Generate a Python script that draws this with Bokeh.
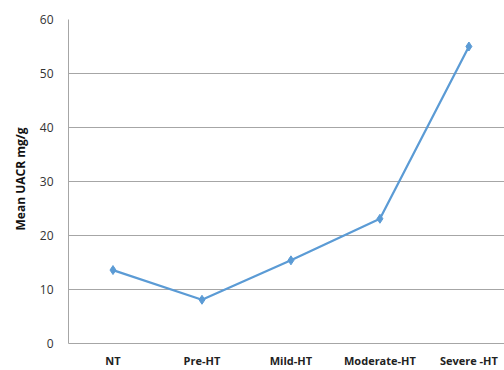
from bokeh.plotting import figure
from bokeh.models import Range1d, FixedTicker, Title
from bokeh.embed import file_html
from bokeh.resources import INLINE

categories = ["NT", "Pre-HT", "Mild-HT", "Moderate-HT", "Severe -HT"]
uacr = [13.6, 8.1, 15.4, 23.1, 55.0]

xs = [i + 0.5 for i in range(len(categories))]

p = figure(width=504, height=370, output_backend="svg", toolbar_location=None,
           x_range=Range1d(0, 4.9), y_range=Range1d(0, 60),
           min_border_left=68, min_border_right=0, min_border_top=19, min_border_bottom=27)
p.outline_line_color = None
p.background_fill_color = "white"

p.line(xs, uacr, line_color="#5B9BD5", line_width=2.25)
p.scatter(xs, uacr, marker="diamond", size=9, fill_color="#5B9BD5", line_color="#5B9BD5")

p.xaxis.ticker = FixedTicker(ticks=xs)
p.xaxis.major_label_overrides = {x: c for x, c in zip(xs, categories)}
p.xaxis.major_label_text_font = "Open Sans"
p.xaxis.major_label_text_font_style = "bold"
p.xaxis.major_label_text_font_size = "11px"
p.xaxis.major_label_text_color = "#222222"
p.xaxis.major_label_standoff = 9
p.xaxis.major_tick_out = 0
p.xaxis.major_tick_in = 0
p.xaxis.major_tick_line_color = None
p.xaxis.minor_tick_line_color = None
p.xaxis.axis_line_color = "#a6a6a6"

p.yaxis.ticker = FixedTicker(ticks=[0, 10, 20, 30, 40, 50, 60])
p.yaxis.major_label_text_font = "Open Sans"
p.yaxis.major_label_text_font_size = "12px"
p.yaxis.major_label_text_color = "#333333"
p.yaxis.major_label_standoff = 15
p.yaxis.major_tick_out = 0
p.yaxis.major_tick_in = 0
p.yaxis.major_tick_line_color = None
p.yaxis.minor_tick_line_color = None
p.yaxis.axis_line_color = "#a6a6a6"

p.xgrid.grid_line_color = None
p.ygrid.grid_line_color = "#a6a6a6"
p.ygrid.grid_line_width = 1

ytitle = Title(text="Mean UACR mg/g", align="left", offset=113, standoff=15,
               text_font="Open Sans", text_font_style="bold", text_font_size="12px",
               text_color="#111111")
p.add_layout(ytitle, "left")

open("out.html", "w").write(file_html(p, INLINE))
